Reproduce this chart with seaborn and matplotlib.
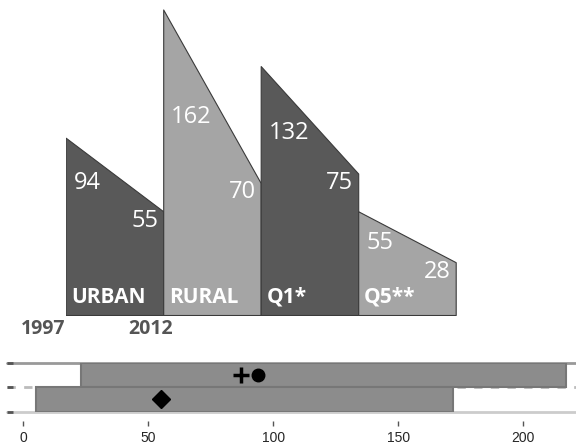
import numpy as np
import pandas as pd
import matplotlib
matplotlib.use("Agg")
import matplotlib.pyplot as plt
import seaborn as sns

# data
groups = ["URBAN", "RURAL", "Q1*", "Q5**"]
years = ["1997", "2012"]
val_1997 = [94, 162, 132, 55]
val_2012 = [55, 70, 75, 28]

range_low = [23, 5]
range_high = [217, 172]
plus_val = 87
circle_val = 94
diamond_val = 55
axis_ticks = [0, 50, 100, 150, 200]

sns.set_theme(style="white")
plt.rcParams["font.family"] = ["Open Sans", "DejaVu Sans"]

W, H = 576, 447
fig = plt.figure(figsize=(W / 100, H / 100), dpi=100)

# --- top panel: sloped blocks, 1997 -> 2012 ---
base_px = 315
px_per_unit = 1.886
ax = fig.add_axes([65.7 / W, (H - base_px) / H, 390 / W, base_px / H])
ax.set_xlim(0, len(groups))
ax.set_ylim(0, base_px / px_per_unit)
ax.axis("off")

dark, light = "#595959", "#a5a5a5"
df = pd.DataFrame({"group": groups, "y1997": val_1997, "y2012": val_2012})
for i, row in df.iterrows():
    shade = dark if i % 2 == 0 else light
    ax.fill_between([i, i + 1], [0, 0], [row.y1997, row.y2012],
                    facecolor=shade, edgecolor="#3a3a3a", linewidth=0.8)
    # left number sits under the sloped edge
    y_left = np.interp(0.62, [0, 1], [row.y1997, row.y2012])
    ax.text(i + 0.08, y_left, str(row.y1997), color="white",
            fontsize=17, ha="left", va="center")
    ax.text(i + 0.95, row.y2012 - 5, str(row.y2012), color="white",
            fontsize=17, ha="right", va="center")
    ax.text(i + 0.06, 6.4, row.group, color="white", fontsize=15,
            fontweight="bold", ha="left", va="baseline")

ax.text(-0.23, -7.5, years[0], color="#555555", fontsize=14,
        fontweight="bold", ha="center", va="center")
ax.text(0.875, -7.5, years[1], color="#555555", fontsize=14,
        fontweight="bold", ha="center", va="center")

# --- bottom panel: ranges with markers ---
x0_px, scale = 23.3, 2.5
top_px, bot_px = 362.7, 411.7
left_px = 7
bx = fig.add_axes([left_px / W, (H - bot_px) / H, (W - left_px) / W,
                   (bot_px - top_px) / H])
bx.set_xlim((left_px - x0_px) / scale, (W - x0_px) / scale)
bx.set_ylim(2, 0)

bx.axhline(0, color="#999999", lw=2, clip_on=False, zorder=0)
bx.axhline(1, color="#bbbbbb", lw=2, ls=(0, (3, 3)), clip_on=False, zorder=0)
bx.axhline(2, color="#cccccc", lw=2, clip_on=False, zorder=0)

lo = np.array(range_low)
hi = np.array(range_high)
bx.barh([0.5, 1.5], hi - lo, left=lo, height=1.0, color="#8c8c8c",
        edgecolor="#777777", linewidth=1.5, zorder=2)

bx.plot([plus_val], [0.5], marker="+", color="black", markersize=12,
        markeredgewidth=2.5, zorder=3)
bx.plot([circle_val], [0.5], marker="o", color="black", markersize=9,
        zorder=3)
bx.plot([diamond_val], [1.5], marker="D", color="black", markersize=9,
        zorder=3)

for side in ["top", "right", "left"]:
    bx.spines[side].set_visible(False)
bx.spines["bottom"].set_position(("outward", 6.7))
bx.spines["bottom"].set_visible(False)
bx.set_xticks(axis_ticks)
bx.set_xticklabels([str(t) for t in axis_ticks], family="Liberation Sans",
                   fontsize=10)
bx.tick_params(axis="x", bottom=True, length=3.6, width=1, color="#555555",
               pad=3.5)
bx.set_yticks([0, 1, 2])
bx.set_yticklabels([])
bx.tick_params(axis="y", left=True, direction="in", length=4.5, width=2,
               color="#555555")
bx.grid(False)
bx.set_facecolor("none")

fig.savefig("out.png", dpi=100)
